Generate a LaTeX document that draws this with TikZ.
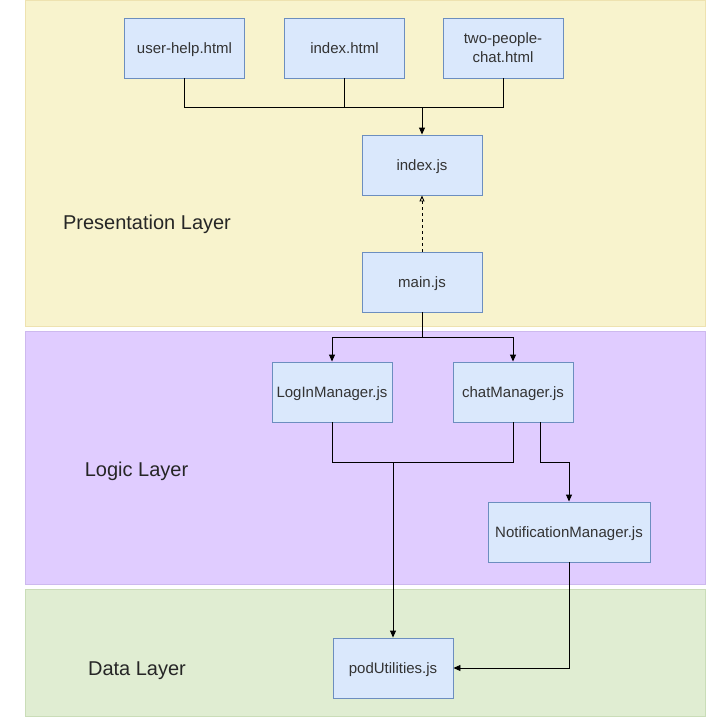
\documentclass[tikz,border=0pt]{standalone}
\usepackage{fontspec}
\setmainfont{Liberation Sans}
\usetikzlibrary{arrows.meta}
\definecolor{nodefill}{HTML}{DAE8FC}
\definecolor{nodeline}{HTML}{6C8EBF}
\definecolor{yellowfill}{HTML}{F8F3CD}
\definecolor{yellowline}{HTML}{EEE2B0}
\definecolor{purplefill}{HTML}{E0CCFF}
\definecolor{purpleline}{HTML}{CDB9EE}
\definecolor{greenfill}{HTML}{E0EDD2}
\definecolor{greenline}{HTML}{CADDB8}
\definecolor{txt}{HTML}{333333}
\begin{document}
\begin{tikzpicture}[x=1pt,y=-1pt,
  box/.style={draw=nodeline, fill=nodefill, line width=0.9pt, minimum width=120pt,
    minimum height=60pt, inner sep=2pt, font=\fontsize{15}{18.5}\selectfont, text=txt,
    align=center, text height=10pt, text depth=0pt},
  layerlabel/.style={font=\fontsize{20}{24}\selectfont, text=black!85,
    text height=14pt, text depth=0pt},
  conn/.style={draw=black, line width=0.9pt},
  arr/.style={conn, -{Triangle[length=7pt,width=6pt]}}]
\useasboundingbox (0,0) rectangle (706,717);
% layers
\fill[yellowfill, draw=yellowline, line width=0.8pt] (25.5,0.5) rectangle (705.5,326);
\fill[purplefill, draw=purpleline, line width=0.8pt] (25.5,331.5) rectangle (705.5,584);
\fill[greenfill, draw=greenline, line width=0.8pt] (25.5,589.5) rectangle (705.5,716.5);
\node[layerlabel] (pl) at (147,222) {Presentation Layer};
\node[layerlabel] (ll) at (136.5,469) {Logic Layer};
\node[layerlabel] (dl) at (137,668) {Data Layer};
% nodes
\node[box] (uh) at (184.5,48) {user-help.html};
\node[box] (ih) at (344.5,48) {index.html};
\node[box, text height=28.5pt] (tp) at (503,48) {two-people-\\chat.html};
\node[box] (ij) at (422,165) {index.js};
\node[box] (mj) at (422,282) {main.js};
\node[box] (lm) at (332,392) {LogInManager.js};
\node[box] (cm) at (513,392) {chatManager.js};
\node[box, minimum width=162pt] (nm) at (569,532) {NotificationManager.js};
\node[box] (pu) at (393,668) {podUtilities.js};
% connectors
\coordinate (j1) at (422,107);
\draw[conn] (uh.south) |- (j1);
\draw[conn] (ih.south) |- (j1);
\draw[conn] (tp.south) |- (j1);
\draw[arr] (j1) -- (ij.north);
\draw[conn, dashed, dash pattern=on 3pt off 3pt, -{Triangle[open,length=6pt,width=5pt]}] (mj.north) -- (ij.south);
\coordinate (j2) at (422,337);
\draw[conn] (mj.south) -- (j2);
\draw[arr] (j2) -| (lm.north);
\draw[arr] (j2) -| (cm.north);
\coordinate (j3) at (393,462);
\draw[conn] (lm.south) |- (j3);
\draw[conn] (cm.south) |- (j3);
\draw[arr] (j3) -- (pu.north);
\draw[arr] ([xshift=27pt]cm.south) -- ++(0,40) -| (nm.north);
\draw[arr] (nm.south) |- (pu.east);
\end{tikzpicture}
\end{document}
